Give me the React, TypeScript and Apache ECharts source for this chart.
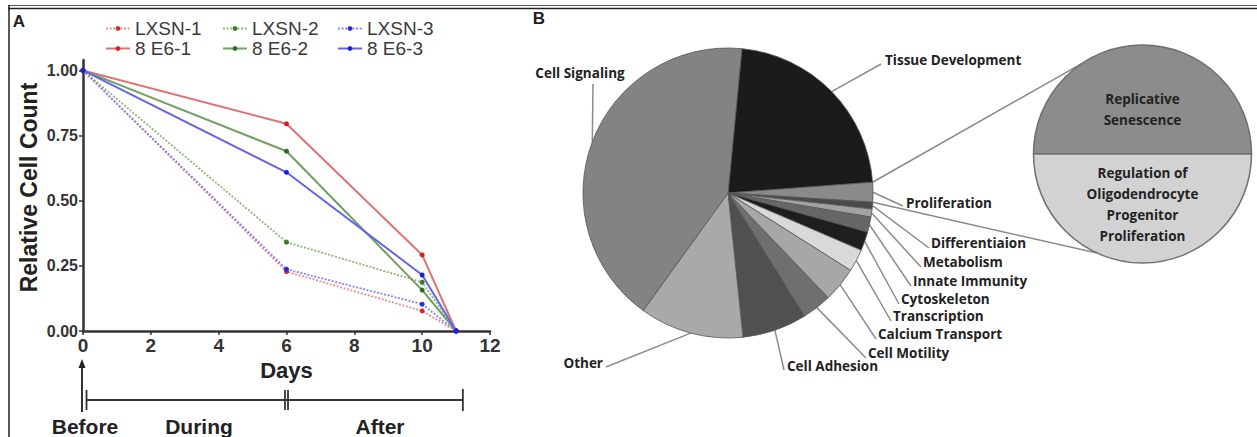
import React, { useEffect, useRef } from 'react';
import * as echarts from 'echarts';

// ---------- Panel A data ----------
const days = [0, 6, 10, 11];
const lxsn1 = [1.0, 0.228, 0.077, 0.0];
const lxsn2 = [1.0, 0.341, 0.187, 0.0];
const lxsn3 = [1.0, 0.237, 0.103, 0.0];
const e6_1 = [1.0, 0.795, 0.292, 0.0];
const e6_2 = [1.0, 0.69, 0.157, 0.0];
const e6_3 = [1.0, 0.609, 0.215, 0.0];
const seriesNames = ['LXSN-1', 'LXSN-2', 'LXSN-3', '8 E6-1', '8 E6-2', '8 E6-3'];
const seriesValues = [lxsn1, lxsn2, lxsn3, e6_1, e6_2, e6_3];
const yTicks = [0, 0.25, 0.5, 0.75, 1.0];
const phaseLabels = ['Before', 'During', 'After'];
const phaseBounds = [0, 6, 11.2];

// ---------- Panel B data ----------
const pieLabels = [
  'Tissue Development', 'Proliferation', 'Differentiaion', 'Metabolism', 'Innate Immunity',
  'Cytoskeleton', 'Transcription', 'Calcium Transport', 'Cell Motility', 'Cell Adhesion',
  'Other', 'Cell Signaling',
];
const pieValues = [22.3, 2.2, 0.75, 0.9, 1.7, 2.1, 2.5, 3.9, 3.3, 7.2, 11.6, 41.6];
const zoomLabels = ['Replicative\nSenescence', 'Regulation of\nOligodendrocyte\nProgenitor\nProliferation'];
const zoomValues = [1, 1];

// ---------- styles ----------
const lineColors = ['#e78e8e', '#8bb879', '#8686ea', '#e07272', '#70a060', '#6464e4'];
const markerColors = ['#d42a2a', '#3a7a2a', '#2a2ae0', '#d02020', '#2d6b22', '#1e1ee0'];
const pieColors = ['#1b1b1b', '#8a8a8a', '#4a4a4a', '#a2a2a2', '#666666', '#1e1e1e', '#d9d9d9', '#a7a7a7', '#6f6f6f', '#505050', '#a9a9a9', '#838383'];
const zoomColors = ['#8c8c8c', '#d2d2d2'];
const legendLefts = [100, 217, 332];
const pieLabelPos = [
  { x: 885, y: 60, align: 'left', ex: 881, ey: 64 },
  { x: 906, y: 203, align: 'left', ex: 903, ey: 206 },
  { x: 931, y: 243, align: 'left', ex: 929, ey: 248 },
  { x: 923, y: 262, align: 'left', ex: 921, ey: 267 },
  { x: 913, y: 281, align: 'left', ex: 911, ey: 286 },
  { x: 901, y: 299, align: 'left', ex: 899, ey: 304 },
  { x: 893, y: 316, align: 'left', ex: 891, ey: 321 },
  { x: 878, y: 334, align: 'left', ex: 876, ey: 339 },
  { x: 868, y: 353, align: 'left', ex: 866, ey: 358 },
  { x: 787, y: 366, align: 'left', ex: 784, ey: 370 },
  { x: 603, y: 363, align: 'right', ex: 606, ey: 367 },
  { x: 580, y: 73, align: 'center', ex: 593, ey: 84 },
];
const PIE_C = [728, 193];
const PIE_R = 145;
const PIE_START = 5.5; // degrees clockwise from 12 o'clock
const ZOOM_C = [1142.5, 154];
const ZOOM_R = 109;
const ZOOM_LINE_ANGLES = [235.8, 114.7]; // screen angles on the zoom circle
const FONT_A = 'Liberation Sans, Arial, sans-serif';
const FONT_B = '"Open Sans", Lato, sans-serif';

const pieTotal = pieValues.reduce((a, b) => a + b, 0);
const cumBefore = (i: number) => pieValues.slice(0, i).reduce((a, b) => a + b, 0);
const angleOf = (v: number) => PIE_START + (v / pieTotal) * 360;
const rimPoint = (deg: number) => {
  const t = (deg * Math.PI) / 180;
  return [PIE_C[0] + PIE_R * Math.sin(t), PIE_C[1] - PIE_R * Math.cos(t)];
};

export default function App() {
  const ref = useRef<HTMLDivElement>(null);
  useEffect(() => {
    const el = ref.current!;
    const chart = echarts.init(el, null, { renderer: 'svg' });

    const lineSeries = seriesNames.map((name, k) => {
      const dashed = k < 3;
      return {
        type: 'line',
        name,
        data: days.map((d, i) => [d, seriesValues[k][i]]),
        symbol: 'circle',
        symbolSize: 5,
        showSymbol: true,
        lineStyle: { color: lineColors[k], width: dashed ? 1.8 : 2, type: dashed ? [2, 1.6] : 'solid' },
        itemStyle: { color: markerColors[k] },
        z: dashed ? 2 : 3,
        emphasis: { disabled: true },
      };
    });

    const option: any = {
      animation: false,
      backgroundColor: '#ffffff',
      grid: { left: 83, top: 60, width: 407, height: 271, containLabel: false },
      xAxis: {
        type: 'value', min: 0, max: 12, interval: 2,
        axisLine: { lineStyle: { color: '#333', width: 2.5 } },
        axisTick: { show: true, length: 4, lineStyle: { color: '#333', width: 1.5 } },
        axisLabel: { fontFamily: FONT_A, fontSize: 19, fontWeight: 'bold', color: '#333', margin: 5 },
        splitLine: { show: false },
        name: 'Days', nameLocation: 'middle', nameGap: 26,
        nameTextStyle: { fontFamily: FONT_A, fontSize: 22, fontWeight: 'bold', color: '#222' },
      },
      yAxis: {
        type: 'value', min: 0, max: 1.04,
        axisLine: { show: true, lineStyle: { color: '#333', width: 2.5 } },
        axisTick: { show: true, length: 4, lineStyle: { color: '#333', width: 1.5 }, customValues: yTicks },
        axisLabel: {
          fontFamily: FONT_A, fontSize: 16, fontWeight: 'bold', color: '#333', margin: 5,
          customValues: yTicks, formatter: (v: number) => v.toFixed(2),
        },
        splitLine: { show: false },
        name: 'Relative Cell Count', nameLocation: 'middle', nameGap: 43, nameRotate: 90,
        nameTextStyle: { fontFamily: FONT_A, fontSize: 23, fontWeight: 'bold', color: '#222', padding: [0, 0, 0, 16] },
      },
      legend: [0, 1, 2].map((k) => ({
        orient: 'vertical', left: legendLefts[k], top: 14, itemGap: 1, itemWidth: 24, itemHeight: 6,
        data: [seriesNames[k], seriesNames[k + 3]],
        textStyle: { fontFamily: FONT_A, fontSize: 19, color: '#3a3a3a', lineHeight: 19 },
        selectedMode: false,
      })),
      series: [
        ...lineSeries,
        {
          type: 'pie',
          center: PIE_C, radius: PIE_R, startAngle: 90 - PIE_START, clockwise: true,
          avoidLabelOverlap: false, emphasis: { disabled: true },
          data: pieLabels.map((n, i) => ({ name: n, value: pieValues[i], itemStyle: { color: pieColors[i] } })),
          itemStyle: { borderColor: '#555', borderWidth: 0.8 },
          label: { show: true, position: 'outside', fontFamily: FONT_B, fontWeight: 'bold', fontSize: 13.5, color: '#222' },
          labelLine: { show: true, length: 5, length2: 5, lineStyle: { color: '#8c8c8c', width: 1.5 } },
          labelLayout: (p: any) => {
            const i = p.dataIndex;
            const pos = pieLabelPos[i];
            const r = rimPoint(angleOf(cumBefore(i) + pieValues[i] / 2));
            return {
              x: pos.x, y: pos.y, align: pos.align, verticalAlign: 'middle',
              labelLinePoints: [r, [pos.ex, pos.ey], [pos.ex, pos.ey]],
            };
          },
        },
        {
          type: 'pie',
          center: ZOOM_C, radius: ZOOM_R, startAngle: 180, clockwise: true,
          avoidLabelOverlap: false, emphasis: { disabled: true },
          data: zoomLabels.map((n, i) => ({ name: n, value: zoomValues[i], itemStyle: { color: zoomColors[i] } })),
          itemStyle: { borderColor: '#707070', borderWidth: 1.5 },
          label: { show: true, position: 'inside', fontFamily: FONT_B, fontWeight: 'bold', fontSize: 13.5, color: '#222', lineHeight: 21, align: 'center' },
          labelLine: { show: false },
          labelLayout: (p: any) => ({ x: ZOOM_C[0], y: p.dataIndex === 0 ? 109 : 204.5, align: 'center', verticalAlign: 'middle' }),
        },
      ],
    };
    chart.setOption(option);

    const px = (d: number) => (chart.convertToPixel({ gridIndex: 0 }, [d, 0]) as number[])[0];
    const x0 = px(phaseBounds[0]);
    const x6 = px(phaseBounds[1]);
    const xE = px(phaseBounds[2]);
    const stroke = { stroke: '#333', lineWidth: 1.8 };
    const ln = (x1: number, y1: number, x2: number, y2: number, style: any = stroke) => ({ type: 'line', shape: { x1, y1, x2, y2 }, style, silent: true });

    const pStart = angleOf(cumBefore(1));
    const pEnd = angleOf(cumBefore(2));
    const a1 = rimPoint(pStart);
    const a2 = rimPoint(pEnd);
    const z1 = [ZOOM_C[0] + ZOOM_R * Math.cos((ZOOM_LINE_ANGLES[0] * Math.PI) / 180), ZOOM_C[1] + ZOOM_R * Math.sin((ZOOM_LINE_ANGLES[0] * Math.PI) / 180)];
    const z2 = [ZOOM_C[0] + ZOOM_R * Math.cos((ZOOM_LINE_ANGLES[1] * Math.PI) / 180), ZOOM_C[1] + ZOOM_R * Math.sin((ZOOM_LINE_ANGLES[1] * Math.PI) / 180)];

    const txt = (text: string, x: number, y: number, size: number, align = 'center', font = FONT_A) => ({
      type: 'text', x, y, silent: true,
      style: { text, fontFamily: font, fontSize: size, fontWeight: 'bold', fill: '#222', align, verticalAlign: 'middle' },
    });

    const graphic = [
      // frame
      ln(8, 5.5, 1257, 5.5, { stroke: '#555', lineWidth: 1 }),
      ln(8, 8.5, 1257, 8.5, { stroke: '#222', lineWidth: 1.5 }),
      ln(9, 5, 9, 437, { stroke: '#222', lineWidth: 1.5 }),
      txt('A', 19, 21, 17),
      txt('B', 539, 18, 17),
      // timeline
      ln(x0 - 1, 366, x0 - 1, 412, { stroke: '#333', lineWidth: 2 }),
      { type: 'polygon', shape: { points: [[x0 - 4.5, 368], [x0 - 1, 359], [x0 + 2.5, 368]] }, style: { fill: '#222' }, silent: true },
      ln(x0 + 3.5, 390, x0 + 3.5, 410),
      ln(x0 + 3.5, 400, xE, 400),
      ln(x6 - 1.5, 390, x6 - 1.5, 410),
      ln(x6 + 1.5, 390, x6 + 1.5, 410),
      ln(xE, 389, xE, 411),
      txt(phaseLabels[0], x0 + 2, 426, 21),
      txt(phaseLabels[1], 199, 426, 21),
      txt(phaseLabels[2], 380, 426, 21),
      // zoom connectors
      ln(a1[0], a1[1], z1[0], z1[1], { stroke: '#8a8a8a', lineWidth: 1.5 }),
      ln(a2[0], a2[1], z2[0], z2[1], { stroke: '#8a8a8a', lineWidth: 1.5 }),
    ];
    chart.setOption({ graphic });

    return () => chart.dispose();
  }, []);
  return <div ref={ref} style={{ position: 'fixed', left: 0, top: 0, width: 1257, height: 437, background: '#fff' }} />;
}
